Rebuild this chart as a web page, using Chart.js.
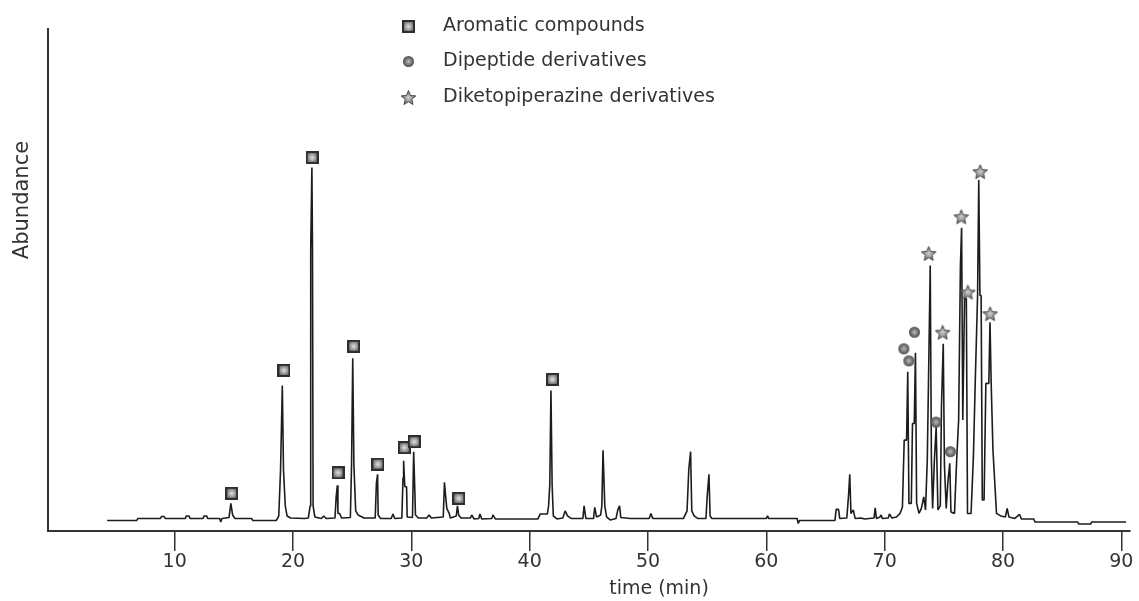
<!DOCTYPE html>
<html>
<head>
<meta charset="utf-8">
<title>Chromatogram</title>
<script src="https://cdn.jsdelivr.net/npm/chart.js@4.4.1/dist/chart.umd.min.js"></script>
<style>
  body { margin: 0; background: #fff; }
  #wrap { width: 1139px; height: 601px; }
</style>
</head>
<body>
<div id="wrap"><canvas id="myChart" width="1139" height="601"></canvas></div>
<script>
// x ticks (min)
var tickValues = [10, 20, 30, 40, 50, 60, 70, 80, 90];

// chromatogram trace: retention time (min) and abundance (relative)
var traceTime = [
  4.3, 6.8, 6.9, 8.8, 8.9, 9.1, 9.2, 10.9, 11.0, 11.2, 11.3, 12.4, 12.5, 12.7, 12.8, 13.8, 13.9, 14.0,
  14.6, 14.75, 14.9, 15.1, 16.5, 16.6, 18.6, 18.8, 18.95, 19.1, 19.2, 19.35, 19.5, 19.8,
  21.0, 21.3, 21.45, 21.5, 21.6, 21.65, 21.7, 21.85, 22.4, 22.6, 22.8,
  23.55, 23.65, 23.75, 23.8, 23.95, 24.1, 24.85, 24.95, 25.05, 25.15, 25.3, 25.5, 26.0,
  26.95, 27.05, 27.15, 27.2, 27.4, 28.3, 28.45, 28.6, 29.2, 29.3, 29.35, 29.45, 29.6, 29.65,
  30.1, 30.2, 30.3, 30.35, 30.6, 31.3, 31.5, 31.7, 32.7, 32.8, 32.9, 33.0, 33.2, 33.3,
  33.8, 33.9, 34.0, 34.2, 35.0, 35.1, 35.3, 35.7, 35.8, 35.95, 36.8, 36.9, 37.1,
  40.7, 40.9, 41.5, 41.6, 41.7, 41.8, 41.9, 42.0, 42.3, 42.8, 43.0, 43.2, 43.5,
  44.5, 44.6, 44.75, 45.4, 45.5, 45.65, 46.0, 46.1, 46.2, 46.35, 46.5, 46.8, 47.3, 47.45, 47.6, 47.7,
  48.5, 50.1, 50.25, 50.4, 53.0, 53.3, 53.45, 53.6, 53.7, 53.9, 54.2, 54.9, 55.0, 55.15, 55.25, 55.4,
  60.0, 60.1, 60.2, 62.6, 62.7, 62.8, 65.8, 65.9, 66.1, 66.2, 66.8, 66.95, 67.05, 67.15, 67.35, 67.5,
  68.0, 68.3, 69.1, 69.2, 69.3, 69.6, 69.7, 69.8, 70.3, 70.4, 70.6, 71.0, 71.3, 71.5,
  71.65, 71.85, 71.95, 72.05, 72.25, 72.35, 72.5, 72.6, 72.7, 72.9, 73.1, 73.3, 73.45,
  73.6, 73.7, 73.85, 73.95, 74.05, 74.2, 74.35, 74.5, 74.7, 74.8, 74.95, 75.05, 75.2, 75.35, 75.5, 75.6,
  75.9, 76.1, 76.25, 76.4, 76.5, 76.6, 76.75, 76.9, 77.0, 77.3, 77.5, 77.65, 77.85, 77.95, 78.05, 78.15,
  78.25, 78.4, 78.55, 78.8, 78.9, 79.0, 79.15, 79.45, 79.8, 80.2, 80.35, 80.5, 81.0, 81.4, 81.55,
  82.6, 82.7, 86.3, 86.4, 87.4, 87.5, 90.4
];
var traceAbund = [
  2.1, 2.1, 2.5, 2.5, 2.9, 2.9, 2.5, 2.5, 3.0, 3.0, 2.5, 2.5, 3.0, 3.0, 2.5, 2.5, 1.8, 2.5,
  2.7, 5.5, 3.2, 2.5, 2.5, 2.1, 2.1, 3.0, 12.1, 29.0, 12.1, 5.0, 3.0, 2.6,
  2.5, 2.6, 5.0, 55.9, 72.4, 55.9, 5.0, 2.8, 2.5, 3.0, 2.5,
  2.6, 6.8, 9.1, 3.5, 3.5, 2.6, 2.7, 13.1, 34.4, 13.1, 4.0, 3.2, 2.6,
  2.6, 9.5, 11.3, 3.2, 2.5, 2.5, 3.4, 2.5, 2.6, 10.6, 14.0, 8.8, 8.8, 2.8,
  2.7, 15.8, 7.8, 3.2, 2.6, 2.6, 3.2, 2.6, 2.8, 9.7, 7.0, 4.5, 3.5, 2.6,
  3.0, 5.0, 3.2, 2.6, 2.6, 3.2, 2.4, 2.5, 3.4, 2.4, 2.5, 3.2, 2.4,
  2.4, 3.4, 3.4, 5.0, 9.1, 28.0, 9.1, 3.0, 2.4, 2.6, 4.0, 3.0, 2.5,
  2.5, 5.0, 2.5, 2.5, 4.7, 2.8, 3.2, 5.0, 16.1, 5.0, 2.8, 2.2, 2.5, 4.2, 5.0, 2.7,
  2.5, 2.5, 3.5, 2.5, 2.5, 4.0, 12.4, 15.8, 4.0, 3.0, 2.5, 2.5, 6.8, 11.3, 3.0, 2.5,
  2.5, 3.0, 2.5, 2.5, 1.5, 2.1, 2.1, 4.3, 4.3, 2.5, 2.6, 7.2, 11.3, 3.5, 4.2, 2.5,
  2.6, 2.4, 2.6, 4.6, 2.5, 2.8, 3.2, 2.5, 2.6, 3.4, 2.6, 2.8, 3.5, 4.8,
  18.1, 18.1, 31.7, 5.5, 5.5, 21.4, 21.4, 35.5, 5.5, 3.5, 4.5, 6.8, 4.2,
  14.1, 29.4, 52.9, 14.1, 4.5, 14.1, 20.7, 4.2, 5.0, 25.0, 37.3, 13.1, 4.5, 10.0, 13.5, 3.8,
  3.5, 15.0, 22.1, 52.9, 60.4, 22.1, 46.3, 46.3, 3.5, 3.5, 15.0, 29.4, 46.9, 69.9, 46.9, 46.9,
  6.2, 6.2, 29.4, 29.4, 41.6, 29.4, 16.1, 3.5, 3.0, 2.8, 4.5, 2.8, 2.5, 3.3, 2.4,
  2.4, 1.8, 1.8, 1.4, 1.4, 1.8, 1.8
];

// identified compounds (marker positions)
var aromaticTime  = [14.82, 19.24, 21.62, 23.81, 25.13, 27.17, 29.41, 30.25, 34.01, 41.93];
var aromaticAbund = [7.5, 32.0, 74.4, 11.6, 36.8, 13.3, 16.6, 17.8, 6.5, 30.2];

var dipeptideTime  = [71.62, 72.04, 72.52, 74.34, 75.55];
var dipeptideAbund = [36.3, 33.9, 39.6, 21.7, 15.8];

var dkpTime  = [73.72, 74.90, 76.47, 77.03, 78.07, 78.91];
var dkpAbund = [55.3, 39.6, 62.6, 47.6, 71.6, 43.3];

var seriesNames = ['Aromatic compounds', 'Dipeptide derivatives', 'Diketopiperazine derivatives'];

function toPoints(xs, ys) {
  return xs.map(function (x, i) { return { x: x, y: ys[i] }; });
}

// little shaded marker images
function makeMarker(shape) {
  var c = document.createElement('canvas');
  var s = shape === 'star' ? 17 : 13;
  c.width = s; c.height = s;
  var g = c.getContext('2d');
  var m = s / 2;
  var grad = g.createRadialGradient(m, m, 0, m, m, m);
  if (shape === 'rect') {
    g.fillStyle = '#2e2e2e';
    g.fillRect(0, 0, s, s);
    grad.addColorStop(0, '#e4e4e4');
    grad.addColorStop(1, '#5a5a5a');
    g.fillStyle = grad;
    g.fillRect(2, 2, s - 4, s - 4);
  } else if (shape === 'circle') {
    grad.addColorStop(0, '#bdbdbd');
    grad.addColorStop(1, '#333');
    g.fillStyle = grad;
    g.beginPath();
    g.arc(m, m, m - 1, 0, Math.PI * 2);
    g.fill();
  } else {
    grad.addColorStop(0, '#d0d0d0');
    grad.addColorStop(1, '#555');
    g.beginPath();
    for (var i = 0; i < 10; i++) {
      var r = i % 2 === 0 ? m - 0.8 : (m - 0.8) * 0.45;
      var a = -Math.PI / 2 + i * Math.PI / 5;
      var px = m + r * Math.cos(a), py = m + 0.8 + r * Math.sin(a);
      if (i === 0) g.moveTo(px, py); else g.lineTo(px, py);
    }
    g.closePath();
    g.fillStyle = grad;
    g.fill();
    g.strokeStyle = '#4a4a4a';
    g.lineWidth = 1;
    g.stroke();
  }
  return c;
}

var squareImg = makeMarker('rect');
var circleImg = makeMarker('circle');
var starImg = makeMarker('star');

var textColor = '#333';
var fontFamily = 'DejaVu Sans';

// legend + axis titles, placed where the figure has them
var extrasPlugin = {
  id: 'extras',
  afterDraw: function (chart) {
    var ctx = chart.ctx;
    ctx.save();
    ctx.fillStyle = textColor;
    ctx.textBaseline = 'middle';
    ctx.font = '19px "' + fontFamily + '"';
    var imgs = [squareImg, circleImg, starImg];
    var rowsY = [26, 61, 97];
    for (var i = 0; i < seriesNames.length; i++) {
      var im = imgs[i];
      ctx.drawImage(im, Math.round(408 - im.width / 2), Math.round(rowsY[i] - im.height / 2));
      ctx.textAlign = 'left';
      ctx.fillText(seriesNames[i], 443, rowsY[i]);
    }
    ctx.textAlign = 'center';
    ctx.fillText('time (min)', 659, 589);
    ctx.translate(23, 200);
    ctx.rotate(-Math.PI / 2);
    ctx.font = '21px "' + fontFamily + '"';
    ctx.fillText('Abundance', 0, 0);
    ctx.restore();
  }
};

var ctx = document.getElementById('myChart').getContext('2d');

var config = {
  type: 'line',
  data: {
    datasets: [
      {
        label: 'TIC',
        data: toPoints(traceTime, traceAbund),
        borderColor: '#1c1c1c',
        borderWidth: 1.6,
        borderJoinStyle: 'bevel',
        pointRadius: 0,
        tension: 0,
        fill: false,
        order: 2
      },
      {
        type: 'scatter',
        label: seriesNames[0],
        data: toPoints(aromaticTime, aromaticAbund),
        pointStyle: squareImg,
        pointRadius: 7,
        showLine: false,
        order: 1
      },
      {
        type: 'scatter',
        label: seriesNames[1],
        data: toPoints(dipeptideTime, dipeptideAbund),
        pointStyle: circleImg,
        pointRadius: 7,
        showLine: false,
        order: 1
      },
      {
        type: 'scatter',
        label: seriesNames[2],
        data: toPoints(dkpTime, dkpAbund),
        pointStyle: starImg,
        pointRadius: 8,
        showLine: false,
        order: 1
      }
    ]
  },
  options: {
    responsive: false,
    animation: false,
    layout: { padding: { left: 48, right: 3, top: 29, bottom: 0 } },
    plugins: {
      legend: { display: false },
      tooltip: { enabled: false }
    },
    scales: {
      x: {
        type: 'linear',
        min: -0.7,
        max: 90.73,
        afterBuildTicks: function (scale) {
          scale.ticks = tickValues.map(function (v) { return { value: v }; });
        },
        afterFit: function (scale) { scale.height = 70; },
        grid: { display: true, drawOnChartArea: false, drawTicks: true, tickLength: 20, color: '#333', lineWidth: 1.5 },
        border: { display: true, color: '#333', width: 2 },
        ticks: { color: textColor, padding: 0, maxRotation: 0, font: { family: fontFamily, size: 19 } }
      },
      y: {
        min: 0,
        max: 100,
        afterFit: function (scale) { scale.width = 0; },
        ticks: { display: false },
        grid: { display: false },
        border: { display: true, color: '#333', width: 2 }
      }
    }
  },
  plugins: [extrasPlugin]
};

var myChart = new Chart(ctx, config);
</script>
</body>
</html>
